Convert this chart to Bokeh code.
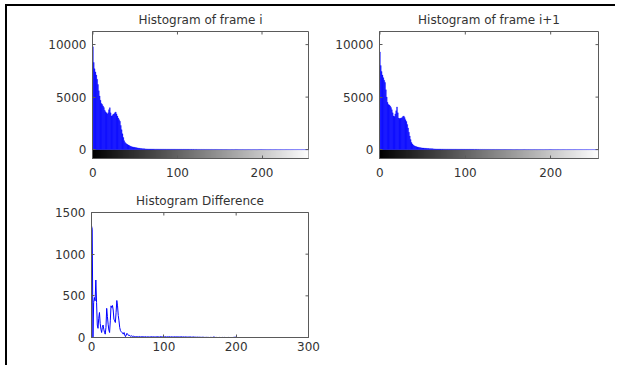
import numpy as np
from bokeh.plotting import figure
from bokeh.layouts import column, row
from bokeh.models import FixedTicker
from bokeh.palettes import Greys256
from bokeh.embed import file_html
from bokeh.resources import INLINE

# ---------------- data ----------------
bins = list(range(256))

hist_i_head = [9800, 8300, 7700, 7400, 7100, 6700, 6200, 5600, 5100, 4700,
               4400, 4300, 4150, 4000, 3750, 3600, 3500, 3380, 3500, 3800,
               3990, 3500, 3200, 3250, 3370, 3400, 3500, 3580, 3400, 3200,
               3000, 2850, 2700, 2300, 1900, 1500, 1150, 850, 680, 600,
               530, 480, 430, 380, 340, 300, 270, 250, 230, 210,
               195, 180, 165, 150, 135, 120, 110, 100, 90, 80,
               75, 70, 65, 60]
hist_i_tail = [58, 55, 52, 50, 48, 50, 46, 44, 45, 42, 40, 42, 38, 40, 37, 36,
               38, 35, 34, 36, 33, 32, 34, 31, 30, 32, 29, 30, 28, 31, 27, 28,
               30, 26, 27, 25, 28, 24, 26, 25, 23, 26, 22, 24, 23, 21, 24, 22,
               20, 23, 21, 19, 22, 20, 18, 21, 19, 17, 20, 18, 16, 19, 17, 15,
               18, 16, 14, 17, 15, 13, 16, 14, 12, 15, 13, 11, 14, 12, 10, 13,
               11, 9, 12, 10, 8, 9, 7, 8, 6, 7, 5, 6, 4, 5, 4, 3,
               4, 3, 2, 3, 2, 4, 3, 2, 6, 12, 8, 3, 2, 1, 2, 1,
               1, 2, 1, 1, 0, 1, 1, 0, 1, 0, 1, 0, 0, 1, 0, 0,
               0, 1, 0, 0, 2, 3, 6, 10, 8, 4, 1, 0, 0, 1, 0, 0,
               0, 0, 1, 0, 0, 0, 0, 1, 0, 0, 0, 0, 0, 0, 1, 0,
               0, 0, 0, 0, 1, 0, 0, 0, 0, 0, 0, 0, 0, 0, 0, 0,
               0, 0, 0, 0, 0, 0, 0, 0, 0, 0, 0, 0, 0, 0, 0, 0]

hist_i1_head = [9300, 8000, 7450, 7100, 6850, 6600, 6400, 5700, 5000, 4500,
                4300, 4250, 4150, 4000, 3800, 3500, 3200, 3150, 3400, 3700,
                4060, 3500, 3000, 2950, 2980, 3000, 3050, 3150, 3200, 3050,
                2850, 2680, 2400, 2060, 1650, 1290, 950, 680, 540, 440,
                370, 330, 300, 270, 240, 220, 200, 185, 170, 160,
                150, 140, 130, 120, 115, 110, 100, 95, 90, 85,
                80, 75, 70, 65]
hist_i1_tail = [62, 58, 55, 52, 50, 47, 48, 45, 43, 44, 41, 40, 41, 38, 37, 38,
                36, 34, 35, 33, 34, 31, 32, 30, 31, 29, 30, 28, 29, 27, 26, 28,
                27, 25, 26, 24, 25, 23, 25, 22, 23, 24, 21, 22, 20, 22, 21, 19,
                21, 20, 18, 20, 19, 17, 18, 16, 18, 15, 17, 16, 14, 16, 13, 15,
                14, 12, 14, 13, 11, 12, 13, 10, 12, 11, 9, 11, 10, 8, 10, 9,
                8, 9, 7, 8, 6, 7, 5, 6, 5, 4, 5, 3, 4, 3, 2, 3,
                2, 3, 2, 1, 2, 3, 2, 1, 4, 9, 6, 2, 1, 1, 2, 0,
                1, 1, 0, 1, 0, 1, 0, 0, 1, 0, 0, 1, 0, 0, 0, 1,
                0, 0, 0, 1, 1, 2, 5, 8, 6, 3, 1, 0, 1, 0, 0, 0,
                0, 1, 0, 0, 0, 0, 1, 0, 0, 0, 0, 0, 1, 0, 0, 0,
                0, 0, 0, 1, 0, 0, 0, 0, 0, 0, 0, 0, 0, 0, 0, 0,
                0, 0, 0, 0, 0, 0, 0, 0, 0, 0, 0, 0, 0, 0, 0, 0]

hist_diff_head = [1340, 1300, 0, 420, 480, 440, 690, 420, 150, 110,
                  230, 300, 170, 100, 60, 120, 150, 100, 60, 40,
                  120, 350, 250, 160, 90, 60, 200, 380, 360, 384,
                  330, 220, 200, 180, 300, 444, 380, 264, 200, 120,
                  84, 70, 60, 55, 40, 60, 30, 10, 30, 50,
                  40, 25, 30, 20, 15, 20, 18, 12, 15, 10,
                  12, 9, 11, 8]
hist_diff_tail = [10, 8, 12, 9, 7, 10, 8, 11, 9, 7, 8, 10, 6, 9, 7, 8,
                  6, 9, 7, 10, 8, 6, 9, 7, 8, 6, 9, 10, 7, 8, 6, 9,
                  12, 8, 7, 9, 6, 8, 10, 7, 6, 9, 8, 7, 10, 6, 8, 9,
                  7, 6, 8, 9, 7, 10, 6, 8, 7, 9, 6, 8, 10, 7, 6, 8,
                  7, 5, 8, 6, 7, 5, 6, 8, 5, 7, 4, 6, 5, 7, 4, 5,
                  4, 3, 5, 4, 3, 4, 2, 3, 2, 4, 2, 3, 1, 2, 1, 2,
                  1, 2, 1, 0, 1, 2, 1, 0, 3, 6, 4, 1, 0, 1, 0, 0,
                  0, 1, 0, 0, 0, 1, 0, 0, 1, 0, 0, 0, 0, 1, 0, 0,
                  0, 0, 0, 0, 1, 2, 3, 4, 3, 2, 0, 0, 0, 0, 0, 0,
                  0, 0, 0, 0, 0, 0, 0, 0, 0, 0, 0, 0, 0, 0, 0, 0,
                  0, 0, 0, 0, 0, 0, 0, 0, 0, 0, 0, 0, 0, 0, 0, 0,
                  0, 0, 0, 0, 0, 0, 0, 0, 0, 0, 0, 0, 0, 0, 0, 0]

hist_i = hist_i_head + hist_i_tail
hist_i1 = hist_i1_head + hist_i1_tail
hist_diff = hist_diff_head + hist_diff_tail

hist_xticks = [0, 100, 200]
hist_yticks = [0, 5000, 10000]
diff_xticks = [0, 100, 200, 300]
diff_yticks = [0, 500, 1000, 1500]

FONT = "DejaVu Sans"
BLUE = "#0000ff"
AXC = "#5a5a5a"
TXC = "#333333"


def style(p, xticks, yticks, xstand):
    p.grid.visible = False
    p.outline_line_color = AXC
    p.background_fill_color = "white"
    p.border_fill_color = "white"
    for ax in (p.xaxis[0], p.yaxis[0]):
        ax.major_tick_in = 3
        ax.major_tick_out = 0
        ax.minor_tick_in = 0
        ax.minor_tick_out = 0
        ax.axis_line_color = AXC
        ax.major_tick_line_color = AXC
        ax.major_label_text_font = FONT
        ax.major_label_text_font_size = "12px"
        ax.major_label_text_color = TXC
    p.xaxis[0].major_label_standoff = xstand
    p.yaxis[0].major_label_standoff = 6
    p.xaxis[0].ticker = FixedTicker(ticks=xticks)
    p.yaxis[0].ticker = FixedTicker(ticks=yticks)
    # inward tick marks on the top and right edges of the box
    p.scatter(x=xticks, y=[p.y_range.end] * len(xticks), marker="dash", angle=np.pi / 2,
              size=6, line_color=AXC, line_width=1)
    p.scatter(x=[p.x_range.end] * len(yticks), y=yticks, marker="dash",
              size=6, line_color=AXC, line_width=1)
    p.title.text_font = FONT
    p.title.text_font_size = "12px"
    p.title.text_font_style = "normal"
    p.title.text_color = TXC
    p.title.align = "center"
    p.title.standoff = 9


def hist_fig(title, counts, xmax, w, mbl, mbr):
    p = figure(width=w, height=174, x_range=(-0.5, xmax), y_range=(-850, 11250),
               title=title, min_border_left=mbl, min_border_right=mbr,
               min_border_top=24, min_border_bottom=22,
               output_backend="svg", toolbar_location=None)
    # grey colour bar under the histogram
    p.image(image=[np.arange(256).reshape(1, 256)], x=0, y=-850, dw=256, dh=850,
            palette=Greys256)
    p.vbar(x=bins, top=counts, bottom=0, width=1, fill_color=BLUE,
           line_color=BLUE, line_width=0.3)
    style(p, hist_xticks, hist_yticks, 9)
    return p


p1 = hist_fig("Histogram of frame i", hist_i, 255, 313, 85, 12)
p2 = hist_fig("Histogram of frame i+1", hist_i1, 256, 297, 59, 19)

p3 = figure(width=313, height=187, x_range=(0, 300), y_range=(0, 1500),
            title="Histogram Difference", min_border_left=84, min_border_right=12,
            min_border_top=32, min_border_bottom=30,
            output_backend="svg", toolbar_location=None)
p3.line(bins, hist_diff, line_color=BLUE, line_width=1)
style(p3, diff_xticks, diff_yticks, 4)

p = column(row(p1, p2), p3, margin=(6, 0, 0, 7),
           styles={"box-shadow": "-2px -2px 0 0 #000"})

open("out.html", "w").write(file_html(p, INLINE))
